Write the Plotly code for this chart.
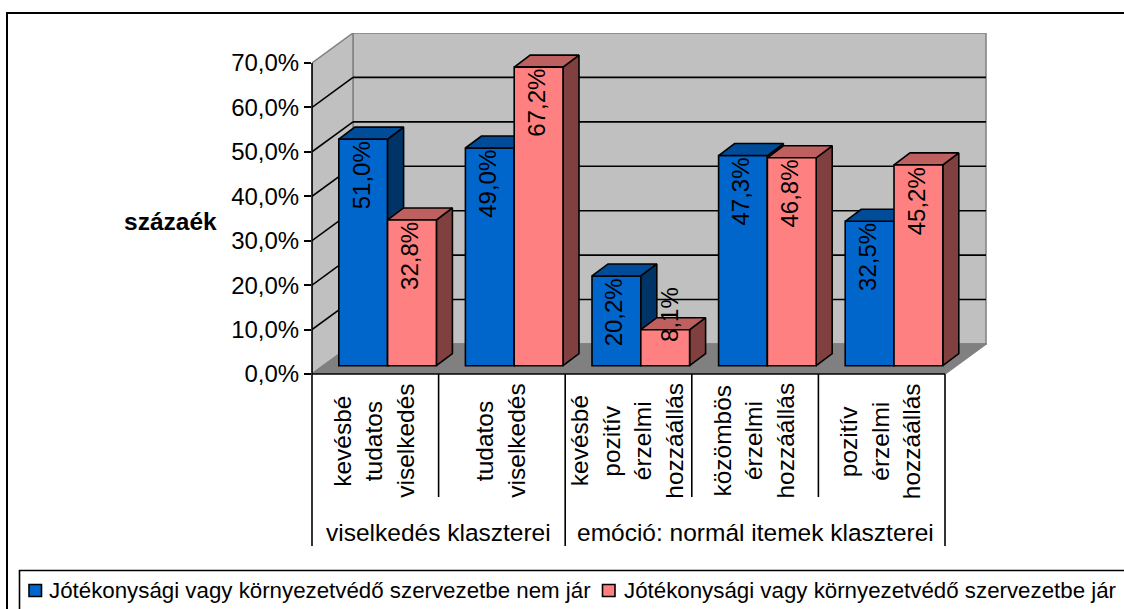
import plotly.graph_objects as go

# ---- data ----
categories = [
    ["kevésbé", "tudatos", "viselkedés"],
    ["tudatos", "viselkedés"],
    ["kevésbé", "pozitív", "érzelmi", "hozzáállás"],
    ["közömbös", "érzelmi", "hozzáállás"],
    ["pozitív", "érzelmi", "hozzáállás"],
]
group_labels = ["viselkedés klaszterei", "emóció: normál itemek klaszterei"]
group_spans = [(0, 2), (2, 5)]
series_blue_name = "Jótékonysági vagy környezetvédő szervezetbe nem jár"
series_pink_name = "Jótékonysági vagy környezetvédő szervezetbe jár"
series_blue = [51.0, 49.0, 20.2, 47.3, 32.5]
series_pink = [32.8, 67.2, 8.1, 46.8, 45.2]
y_ticks = [0, 10, 20, 30, 40, 50, 60, 70]
y_ticktext = ["0,0%", "10,0%", "20,0%", "30,0%", "40,0%", "50,0%", "60,0%", "70,0%"]
y_title = "százaék"

# ---- geometry of the chart frame (pixels) ----
W, H = 1124, 609
LEFT, RIGHT, TOP, BOTTOM = 312, 987, 33, 374
CAT_PX = 126.6
PCT_PX = 4.443
FONT = "Liberation Sans, Arial, sans-serif"
LINE = 1.6

def dx(px):
    return px / CAT_PX

def dy(px):
    return px / PCT_PX

def xp(px):
    return (px - LEFT) / (RIGHT - LEFT)

def yp(py):
    return (BOTTOM - py) / (BOTTOM - TOP)

n_cat = len(categories)
WALL_X, WALL_Y = dx(41), dy(30)       # depth of the whole chart box
BAR_X, BAR_Y = dx(16), dy(12)         # depth of one bar
BASE = dy(8.3)                        # height of the bar base above the axis
BAR_W = dx(48.8)
BAR_SHIFT = dx(12.3)

x_blue = [i + 0.5 + BAR_SHIFT - BAR_W / 2 for i in range(n_cat)]
x_pink = [i + 0.5 + BAR_SHIFT + BAR_W / 2 for i in range(n_cat)]

def polys(xc, vals, kind):
    xs, ys = [], []
    for x, v in zip(xc, vals):
        l, r, t, b = x - BAR_W / 2, x + BAR_W / 2, v + BASE, BASE
        if kind == "side":
            px = [r, r + BAR_X, r + BAR_X, r, r]
            py = [t, t + BAR_Y, b + BAR_Y, b, t]
        else:
            px = [l, r, r + BAR_X, l + BAR_X, l]
            py = [t, t, t + BAR_Y, t + BAR_Y, t]
        xs += px + [None]
        ys += py + [None]
    return xs, ys

def face(xc, vals, kind, color):
    xs, ys = polys(xc, vals, kind)
    return go.Scatter(x=xs, y=ys, mode="lines", fill="toself", fillcolor=color,
                      line=dict(color="black", width=LINE), hoverinfo="skip",
                      showlegend=False)

fig = go.Figure()
fig.add_trace(go.Bar(x=x_blue, y=series_blue, base=[BASE] * n_cat, width=BAR_W,
                     name=series_blue_name, showlegend=False,
                     marker=dict(color="#0066CC", line=dict(color="black", width=LINE))))
fig.add_trace(face(x_blue, series_blue, "side", "#003366"))
fig.add_trace(face(x_blue, series_blue, "top", "#004C99"))
fig.add_trace(face(x_pink, series_pink, "side", "#804040"))
fig.add_trace(face(x_pink, series_pink, "top", "#BF6060"))
fig.add_trace(go.Bar(x=x_pink, y=series_pink, base=[BASE] * n_cat, width=BAR_W,
                     name=series_pink_name, showlegend=False, xaxis="x2", yaxis="y2",
                     marker=dict(color="#FF8080", line=dict(color="black", width=LINE))))

shapes = []

def poly_shape(pts, fill, line="#808080", width=1.5):
    path = "M" + " L".join(f"{a},{b}" for a, b in pts) + " Z"
    return dict(type="path", path=path, xref="x", yref="y", fillcolor=fill,
                line=dict(color=line, width=width), layer="below")

# walls and floor
ymax = y_ticks[-1]
shapes.append(poly_shape([(WALL_X, WALL_Y), (n_cat + WALL_X, WALL_Y),
                          (n_cat + WALL_X, ymax + WALL_Y), (WALL_X, ymax + WALL_Y)], "#C0C0C0"))
shapes.append(poly_shape([(0, 0), (WALL_X, WALL_Y), (WALL_X, ymax + WALL_Y), (0, ymax)], "#C0C0C0"))
shapes.append(poly_shape([(0, 0), (n_cat, 0), (n_cat + WALL_X, WALL_Y), (WALL_X, WALL_Y)], "#808080"))

# gridlines on back and side walls
for t in y_ticks[1:-1]:
    shapes.append(dict(type="line", xref="x", yref="y", x0=0, y0=t, x1=WALL_X, y1=t + WALL_Y,
                       line=dict(color="black", width=LINE), layer="below"))
    shapes.append(dict(type="line", xref="x", yref="y", x0=WALL_X, y0=t + WALL_Y,
                       x1=n_cat + WALL_X, y1=t + WALL_Y,
                       line=dict(color="black", width=LINE), layer="below"))

black = dict(color="black", width=LINE)
# value axis and category axis
shapes.append(dict(type="line", xref="paper", yref="paper", x0=xp(LEFT), x1=xp(LEFT),
                   y0=yp(BOTTOM), y1=yp(BOTTOM - ymax * PCT_PX), line=black))
shapes.append(dict(type="line", xref="paper", yref="paper",
                   x0=xp(LEFT), x1=xp(LEFT + n_cat * CAT_PX), y0=yp(BOTTOM), y1=yp(BOTTOM), line=black))
# category separators
long_ticks = sorted({a for a, b in group_spans} | {b for a, b in group_spans})
for i in range(n_cat + 1):
    end = 546 if i in long_ticks else 497
    shapes.append(dict(type="line", xref="paper", yref="paper",
                       x0=xp(LEFT + i * CAT_PX), x1=xp(LEFT + i * CAT_PX),
                       y0=yp(BOTTOM), y1=yp(end), line=black))

# outer frame and legend frame (run past the window edge, as in the reference)
shapes.append(dict(type="rect", xref="paper", yref="paper", x0=xp(7), x1=xp(W + 10),
                   y0=yp(H + 10), y1=yp(13), line=dict(color="black", width=2), layer="below"))
shapes.append(dict(type="rect", xref="paper", yref="paper", x0=xp(19.5), x1=xp(W + 10),
                   y0=yp(H + 10), y1=yp(570.5), line=black))
# legend swatches
for x0, col in ((29, "#0066CC"), (602.5, "#FF8080")):
    shapes.append(dict(type="rect", xref="paper", yref="paper", x0=xp(x0), x1=xp(x0 + 12.5),
                       y0=yp(596.5), y1=yp(584.5), fillcolor=col, line=black))

ann = []

def text(px, py, s, size, angle=0, anchor="center", bold=False):
    ann.append(dict(xref="paper", yref="paper", x=xp(px), y=yp(py), text=f"<b>{s}</b>" if bold else s,
                    showarrow=False, textangle=angle, xanchor=anchor, yanchor="middle",
                    font=dict(family=FONT, size=size, color="black")))

# data labels: placed with the library from each value
def data_labels(xc, vals):
    for x, v in zip(xc, vals):
        shift = 36 if v >= 10 else -15
        nudge = 0 if v >= 10 else 7
        ann.append(dict(xref="x", yref="y", x=x, y=v + BASE, text=f"{v:.1f}%".replace(".", ","),
                        showarrow=False, textangle=-90, xanchor="center", yanchor="middle",
                        yshift=-shift, xshift=nudge - 2,
                        font=dict(family=FONT, size=24, color="black")))

data_labels(x_blue, series_blue)
data_labels(x_pink, series_pink)

# category labels, one annotation per line
LINE_GAP = 31.5
for i, lines in enumerate(categories):
    cx = LEFT + (i + 0.5) * CAT_PX - 2
    for j, s in enumerate(lines):
        text(cx + (j - (len(lines) - 1) / 2) * LINE_GAP, 441, s, 24.5, angle=-90)

for (a, b), s in zip(group_spans, group_labels):
    text(LEFT + (a + b) / 2 * CAT_PX, 532, s, 24.5)

text(170.5, 222, y_title, 24.5, bold=True)
text(47, 590, series_blue_name, 22.3, anchor="left")
text(622, 590, series_pink_name, 22.3, anchor="left")

axis_range_x = [0, (RIGHT - LEFT) / CAT_PX]
axis_range_y = [0, (BOTTOM - TOP) / PCT_PX]

fig.update_layout(
    width=W, height=H, autosize=False,
    margin=dict(l=LEFT, r=W - RIGHT, t=TOP, b=H - BOTTOM, pad=0),
    paper_bgcolor="white", plot_bgcolor="rgba(0,0,0,0)",
    showlegend=False, shapes=shapes, annotations=ann,
    font=dict(family=FONT, color="black"),
    xaxis=dict(range=axis_range_x, showgrid=False, zeroline=False, showticklabels=False,
               ticks="", showline=False, fixedrange=True),
    yaxis=dict(range=axis_range_y, tickmode="array", tickvals=y_ticks, ticktext=y_ticktext,
               showgrid=False, zeroline=False, showline=False, ticks="outside", ticklen=7,
               tickwidth=LINE, tickcolor="black", tickfont=dict(family=FONT, size=24, color="black"),
               fixedrange=True),
    xaxis2=dict(range=axis_range_x, overlaying="x", visible=False, fixedrange=True),
    yaxis2=dict(range=axis_range_y, overlaying="y", visible=False, fixedrange=True),
)

fig.write_html("out.html", post_script="document.body.style.margin='0';",
               config={"displayModeBar": False})
